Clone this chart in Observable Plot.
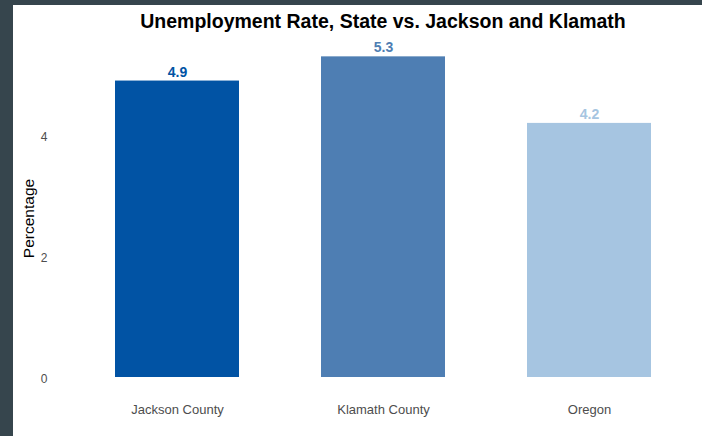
<!DOCTYPE html>
<html>
<head>
<meta charset="utf-8">
<script src="https://cdn.jsdelivr.net/npm/d3@7"></script>
<script src="https://cdn.jsdelivr.net/npm/@observablehq/plot@0.6"></script>
<style>
  html, body { margin: 0; padding: 0; }
  body { width: 702px; height: 436px; background: #36454d; position: relative; overflow: hidden; font-family: "Liberation Sans", Arial, sans-serif; }
  #panel { position: absolute; left: 13px; top: 5px; width: 689px; height: 431px; background: #ffffff; }
  #chart { position: absolute; left: 0; top: 0; }
  #title { position: absolute; left: 383px; top: 10px; transform: translateX(-50%); white-space: nowrap; font-size: 19.5px; font-weight: bold; color: #000; line-height: 22px; }
</style>
</head>
<body>
<div id="panel"></div>
<div id="chart"></div>
<div id="title">Unemployment Rate, State vs. Jackson and Klamath</div>
<script>
const categories = ["Jackson County", "Klamath County", "Oregon"];
const rates = [4.9, 5.3, 4.2];
const barColors = ["#0153a4", "#4e7eb3", "#a6c5e1"];
const yTicks = [0, 2, 4];

const data = categories.map((c, i) => ({category: c, rate: rates[i], color: barColors[i]}));

const chart = Plot.plot({
  width: 702,
  height: 436,
  marginLeft: 52,
  marginRight: 0,
  marginTop: 59,
  marginBottom: 59,
  style: {background: "transparent", fontFamily: "Liberation Sans, Arial, sans-serif"},
  x: {domain: categories, range: [52.6, 713.4], paddingInner: 0.4, paddingOuter: 0.3, label: null},
  y: {domain: [0, 5], range: [377, 74.5], label: null},
  marks: [
    Plot.barY(data, {x: "category", y: "rate", fill: "color"}),
    Plot.text(data, {x: "category", y: "rate", text: d => d.rate.toFixed(1), fill: "color", fontWeight: "bold", fontSize: 14, dy: -9}),
    Plot.axisY({ticks: yTicks, tickFormat: d => String(d), tickSize: 0, tickPadding: 5, fontSize: 12, fill: "#4d4d4d", label: null, dy: 2}),
    Plot.axisX({tickSize: 0, tickPadding: 27, fontSize: 13, fill: "#4d4d4d", label: null}),
    Plot.text(["Percentage"], {frameAnchor: "left", textAnchor: "middle", dx: -23, rotate: -90, fontSize: 15.5, fill: "#000"})
  ]
});
document.getElementById("chart").appendChild(chart);
</script>
</body>
</html>
